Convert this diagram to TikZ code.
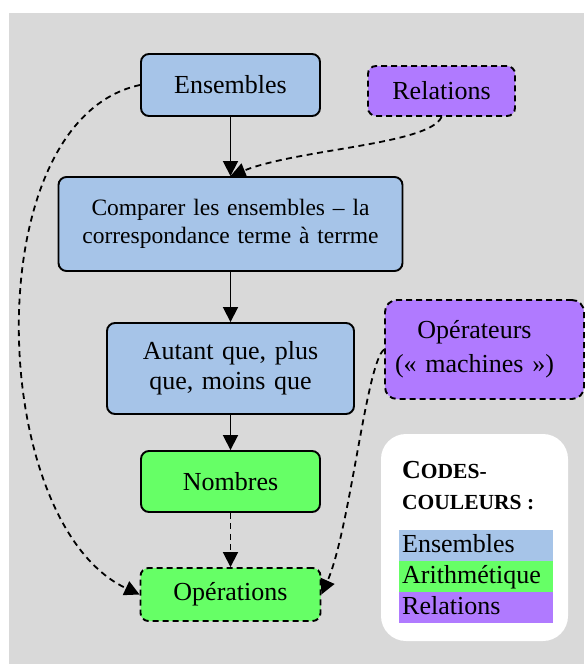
\documentclass[tikz,border=0pt]{standalone}
\usepackage{fontspec}
\setmainfont{Liberation Serif}
\usetikzlibrary{positioning}
\usetikzlibrary{arrows.meta}
\definecolor{setblue}{RGB}{166,196,232}
\definecolor{arithgreen}{RGB}{102,255,102}
\definecolor{relpurple}{RGB}{176,122,255}
\definecolor{bggray}{RGB}{217,217,217}
\tikzset{
    node distance=113pt,
    block/.style={
        draw,
        line width=1.9pt,
        rounded corners=8pt,
        inner sep=0pt,
        align=center,
        font=\fontsize{26}{30}\selectfont
    },
    dashed block/.style={
        block,
        dash pattern=on 6pt off 4pt
    },
    every edge/.append style={
        draw,
        line width=1.8pt,
        -{Triangle[length=15pt,width=15pt]}
    },
    dashed link/.style={
        dash pattern=on 6pt off 4.5pt
    }
}

\begin{document}
\begin{tikzpicture}[x=1pt, y=1pt,
    legbar/.style={inner xsep=3pt, inner ysep=0pt, text width=148pt, align=left,
        text height=22.5pt, text depth=8pt, anchor=north west,
        font=\fontsize{26}{30}\selectfont}]
    \useasboundingbox (0,0) rectangle (584,-664);
    \fill[bggray] (9,-13) rectangle (584,-664);

    \node[block, fill=setblue, minimum width=179pt, minimum height=62pt] (ens) at (230.5,-85) {Ensembles};
    \node[dashed block, fill=relpurple, minimum width=147pt, minimum height=50pt, right of = ens, xshift=98pt, yshift=-6pt] (rel) {Relations};
    \node[block, fill=setblue, minimum width=344pt, minimum height=94pt, text width=320pt, font=\fontsize{23.5}{28}\selectfont, below of = ens, yshift=-26pt] (comp) {Comparer les ensembles – la\\correspondance terme à terrme};
    \node[block, fill=setblue, minimum width=247pt, minimum height=91pt, text width=220pt, below of = comp, yshift=-31.5pt] (aut) {Autant que, plus\\que, moins que};
    \node[dashed block, fill=relpurple, rounded corners=12pt, minimum width=199pt, minimum height=99pt, text width=190pt, font=\fontsize{26}{34}\selectfont, right of = aut, xshift=141pt, yshift=19pt] (opr) {Opérateurs\hspace*{20pt}\null\\(« machines »)\hspace*{20pt}\null};
    \node[block, fill=arithgreen, minimum width=179pt, minimum height=61pt, below of = aut] (nom) {Nombres};
    \node[dashed block, fill=arithgreen, minimum width=180pt, minimum height=53pt, below of = nom] (opn) {Opérations};

    \node[fill=white, rounded corners=25pt, minimum width=187pt, minimum height=207pt] (legend) at (474.5,-537.5) {};
    \node[anchor=base west, inner sep=0pt, font=\bfseries] (codes) at (402,-478) {{\fontsize{26}{31}\selectfont C}{\fontsize{21.5}{31}\selectfont ODES-}};
    \node[anchor=base west, inner sep=0pt, font=\bfseries\fontsize{21.5}{31}\selectfont] (couleurs) at (402,-509) {COULEURS :};
    \node[legbar, fill=setblue] (lset) at (399,-530) {Ensembles};
    \node[legbar, fill=arithgreen, below=0pt of lset] (larith) {Arithmétique};
    \node[legbar, fill=relpurple, below=0pt of larith] (lrel) {Relations};

    \draw (ens) edge (comp);
    \draw (comp) edge (aut);
    \draw (aut) edge (nom);
    \draw (nom) edge[dashed link] (opn);
    \draw (rel.south) edge[dashed link, out=247, in=22, out distance=30pt, in distance=72pt] (comp.north);
    \draw (ens.west) edge[dashed link, out=192, in=155, looseness=.85] (opn.west);
    \draw (opr.west) edge[dashed link, out=216, in=66, out distance=22pt, in distance=70pt] (opn.east);
\end{tikzpicture}
\end{document}
